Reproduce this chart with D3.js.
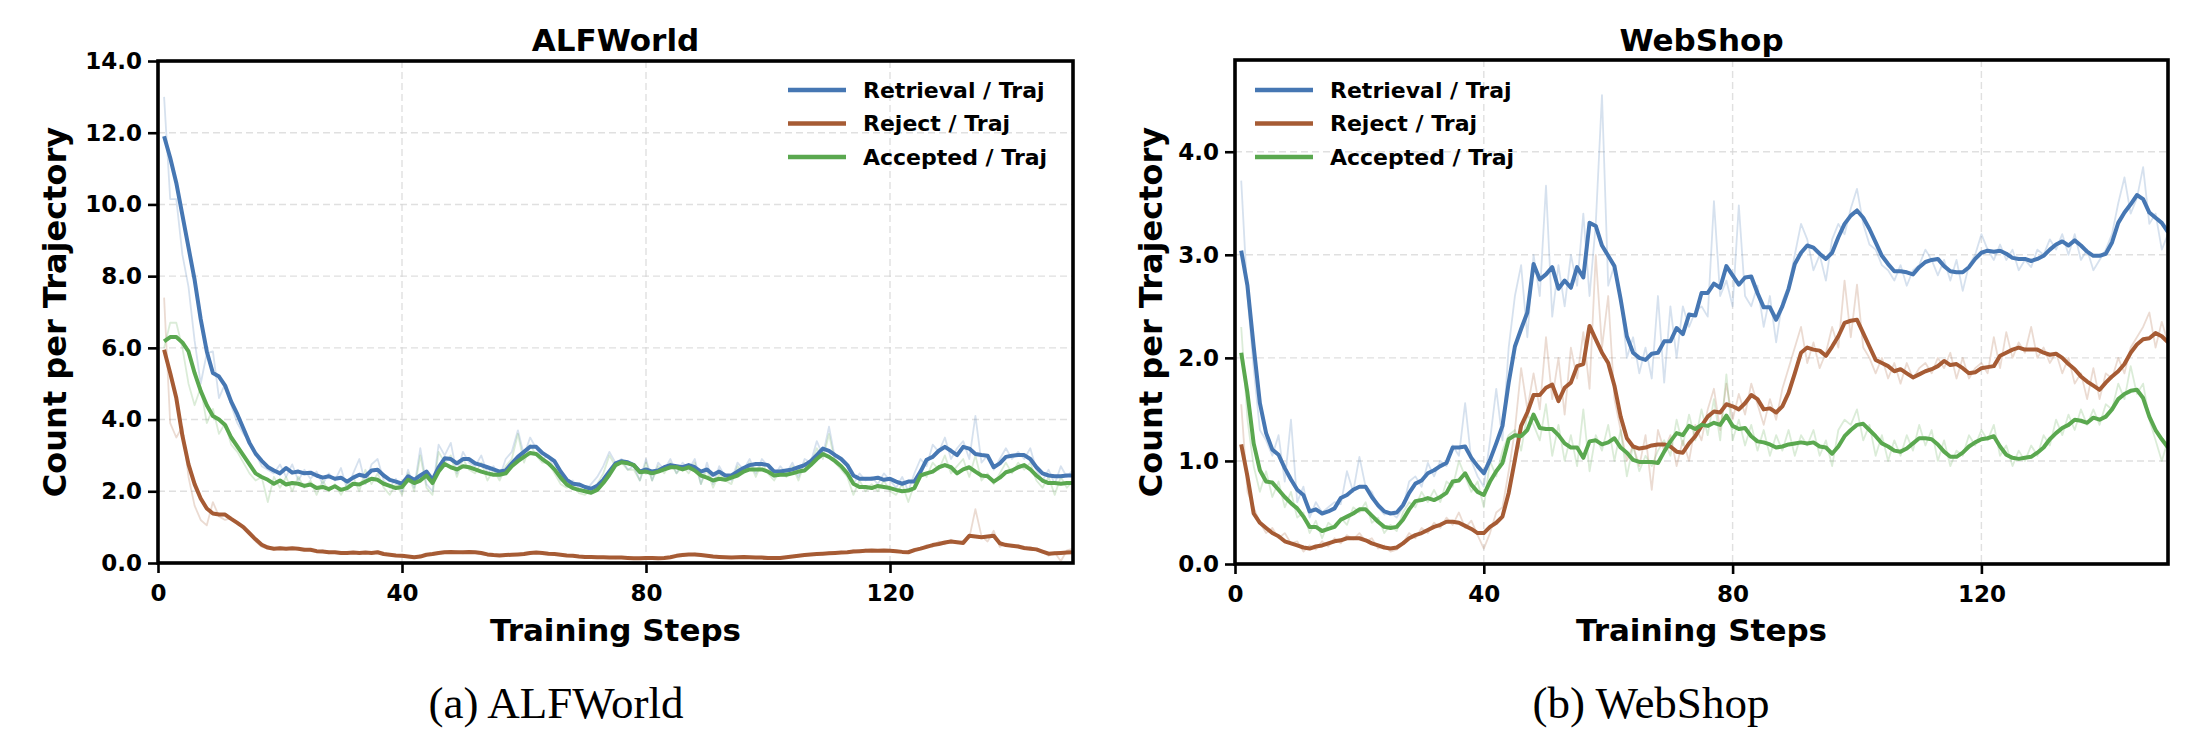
<!DOCTYPE html>
<html>
<head>
<meta charset="utf-8">
<script src="https://cdn.jsdelivr.net/npm/d3@7"></script>
<style>
  body { margin: 0; background: #fff; }
  svg text { font-family: "DejaVu Sans", sans-serif; font-weight: bold; }
  svg text.caption { font-family: "Liberation Serif", "Times New Roman", serif; font-weight: normal; }
</style>
</head>
<body>
<div id="graph"></div>
<script>
// Training steps 1..150 (category positions on the x axis)
var steps = d3.range(1, 151);
var x_ticks = [0, 40, 80, 120];
var series_names = ["Retrieval / Traj", "Reject / Traj", "Accepted / Traj"];
var series_colors = ["#4677b3", "#a65b34", "#5aa84f"];

// ---- ALFWorld: smoothed curves ----
var alf_retrieval = [
  11.9, 11.3, 10.6, 9.7, 8.8, 7.9, 6.8, 5.9, 5.3, 5.2,
  4.95, 4.5, 4.15, 3.75, 3.35, 3.05, 2.85, 2.68, 2.58, 2.5,
  2.65, 2.52, 2.55, 2.5, 2.52, 2.44, 2.38, 2.42, 2.35, 2.38,
  2.27, 2.38, 2.46, 2.42, 2.58, 2.6, 2.44, 2.32, 2.27, 2.21,
  2.42, 2.32, 2.44, 2.55, 2.32, 2.67, 2.92, 2.9, 2.78, 2.9,
  2.9, 2.78, 2.73, 2.67, 2.61, 2.55, 2.58, 2.78, 2.96, 3.1,
  3.24, 3.24, 3.07, 2.96, 2.84, 2.55, 2.32, 2.21, 2.19, 2.12,
  2.07, 2.15, 2.32, 2.55, 2.78, 2.84, 2.81, 2.73, 2.55, 2.61,
  2.55, 2.58, 2.67, 2.73, 2.7, 2.67, 2.73, 2.67, 2.55, 2.61,
  2.46, 2.55, 2.44, 2.44, 2.55, 2.65, 2.73, 2.76, 2.76, 2.73,
  2.55, 2.55, 2.58, 2.61, 2.67, 2.73, 2.84, 3.01, 3.19, 3.13,
  3.01, 2.9, 2.73, 2.44, 2.35, 2.35, 2.35, 2.38, 2.32, 2.35,
  2.27, 2.21, 2.27, 2.27, 2.55, 2.88, 2.96, 3.13, 3.24, 3.13,
  3.01, 3.24, 3.19, 3.04, 3.01, 2.99, 2.67, 2.78, 2.96, 2.99,
  3.01, 3.01, 2.9, 2.67, 2.5, 2.44, 2.42, 2.42, 2.44, 2.44
];
var alf_reject = [
  5.95, 5.3, 4.6, 3.55, 2.75, 2.2, 1.8, 1.52, 1.38, 1.35,
  1.35, 1.23, 1.12, 1.0, 0.83, 0.66, 0.51, 0.43, 0.4, 0.41,
  0.4, 0.41, 0.4, 0.37, 0.37, 0.33, 0.32, 0.3, 0.3, 0.28,
  0.28, 0.29, 0.28, 0.29, 0.28, 0.3, 0.25, 0.23, 0.21, 0.2,
  0.18, 0.16, 0.18, 0.23, 0.25, 0.28, 0.3, 0.31, 0.3, 0.3,
  0.31, 0.3, 0.28, 0.24, 0.22, 0.21, 0.22, 0.23, 0.24, 0.25,
  0.28, 0.29, 0.28, 0.26, 0.25, 0.23, 0.21, 0.2, 0.18, 0.17,
  0.17, 0.16, 0.16, 0.15, 0.15, 0.15, 0.14, 0.13, 0.13, 0.14,
  0.14, 0.13, 0.14, 0.16, 0.2, 0.22, 0.24, 0.24, 0.22, 0.2,
  0.18, 0.17, 0.16, 0.15, 0.16, 0.17, 0.16, 0.15, 0.15, 0.14,
  0.14, 0.14, 0.16, 0.18, 0.2, 0.22, 0.24, 0.25, 0.26, 0.27,
  0.28, 0.29, 0.3, 0.32, 0.33, 0.34, 0.35, 0.34, 0.35, 0.34,
  0.33, 0.31, 0.3, 0.36, 0.4, 0.45, 0.5, 0.53, 0.57, 0.6,
  0.58, 0.56, 0.76, 0.74, 0.72, 0.74, 0.76, 0.55, 0.5, 0.48,
  0.46, 0.42, 0.4, 0.38, 0.32, 0.26, 0.27, 0.28, 0.29, 0.3
];
var alf_accepted = [
  6.18, 6.3, 6.3, 6.15, 5.9, 5.3, 4.8, 4.4, 4.1, 4.0,
  3.85, 3.5, 3.25, 3.0, 2.75, 2.5, 2.4, 2.32, 2.21, 2.3,
  2.19, 2.23, 2.21, 2.15, 2.19, 2.09, 2.12, 2.06, 2.14, 2.04,
  2.09, 2.21, 2.19, 2.27, 2.35, 2.32, 2.21, 2.15, 2.09, 2.12,
  2.32, 2.23, 2.3, 2.44, 2.23, 2.55, 2.76, 2.67, 2.61, 2.7,
  2.67, 2.61, 2.55, 2.5, 2.46, 2.46, 2.5, 2.7, 2.84, 2.96,
  3.07, 3.04, 2.9, 2.78, 2.61, 2.38, 2.19, 2.09, 2.04, 2.0,
  1.96, 2.04, 2.23, 2.46, 2.73, 2.81, 2.78, 2.73, 2.53, 2.55,
  2.5, 2.55, 2.61, 2.67, 2.67, 2.61, 2.67, 2.58, 2.44, 2.38,
  2.3, 2.35, 2.32, 2.38, 2.44, 2.55, 2.61, 2.61, 2.61, 2.55,
  2.44, 2.46, 2.46, 2.5, 2.55, 2.58, 2.73, 2.9, 3.04, 2.96,
  2.84, 2.7, 2.5, 2.21, 2.12, 2.12, 2.09, 2.15, 2.12, 2.09,
  2.04, 2.0, 2.02, 2.09, 2.44, 2.5, 2.55, 2.67, 2.73, 2.67,
  2.5, 2.61, 2.67, 2.55, 2.44, 2.42, 2.27, 2.38, 2.53, 2.58,
  2.67, 2.73, 2.61, 2.44, 2.3, 2.23, 2.23, 2.21, 2.23, 2.23
];

// ---- ALFWorld: raw per-step values (faint lines) ----
var alf_retrieval_raw = [
  13.0, 10.15, 10.15, 8.6, 7.7, 6.2, 5.0, 5.85, 5.9, 4.6,
  5.0, 4.4, 3.9, 3.6, 3.4, 3.05, 2.7, 2.6, 2.5, 2.75,
  2.4, 2.75, 2.3, 2.6, 2.35, 2.55, 2.2, 2.5, 2.3, 2.65,
  2.05, 2.5, 2.9, 2.2, 2.75, 2.9, 2.3, 2.1, 2.35, 2.0,
  2.6, 2.1, 3.2, 2.2, 2.0, 3.3, 3.0, 3.35, 2.5, 3.1,
  2.8, 2.7, 3.0, 2.5, 2.7, 2.4, 2.9, 3.1, 3.7, 3.0,
  3.5, 3.2, 2.9, 3.0, 2.6, 2.3, 2.2, 2.3, 2.1, 2.0,
  2.2, 2.4, 2.7, 3.1, 2.8, 2.9, 2.6, 2.7, 2.3, 2.9,
  2.3, 2.8, 2.6, 2.9, 2.5, 2.8, 2.6, 2.9, 2.2, 2.8,
  2.2, 2.7, 2.4, 2.3, 2.8, 2.6, 2.9, 2.5, 2.9, 2.7,
  2.4, 2.7, 2.5, 2.8, 2.4, 2.9, 2.8, 3.4, 3.0, 3.8,
  2.9, 2.7, 2.5, 2.2, 2.5, 2.3, 2.4, 2.2, 2.5, 2.3,
  2.1, 2.4, 2.0, 2.5, 2.9, 2.7, 3.3, 3.1, 3.5, 2.9,
  3.2, 3.4, 2.9, 4.1, 2.8, 3.0, 2.6, 2.9, 3.2, 2.9,
  3.1, 2.9, 3.2, 2.6, 2.3, 2.6, 2.2, 2.7, 2.4, 2.6
];
var alf_reject_raw = [
  7.4, 3.9, 3.5, 3.8, 2.4, 1.6, 1.2, 1.05, 1.7, 1.3,
  1.2, 1.25, 1.15, 0.95, 0.8, 0.6, 0.45, 0.4, 0.38, 0.44,
  0.4, 0.42, 0.37, 0.4, 0.35, 0.3, 0.35, 0.27, 0.3, 0.26,
  0.3, 0.28, 0.3, 0.26, 0.3, 0.32, 0.22, 0.25, 0.2, 0.17,
  0.2, 0.14, 0.22, 0.25, 0.22, 0.3, 0.33, 0.28, 0.33, 0.27,
  0.34, 0.28, 0.25, 0.22, 0.2, 0.24, 0.2, 0.25, 0.22, 0.28,
  0.3, 0.27, 0.3, 0.24, 0.26, 0.22, 0.2, 0.22, 0.16, 0.19,
  0.15, 0.18, 0.14, 0.17, 0.13, 0.16, 0.14, 0.12, 0.15, 0.12,
  0.15, 0.12, 0.16, 0.18, 0.22, 0.26, 0.22, 0.27, 0.2, 0.22,
  0.16, 0.2, 0.14, 0.18, 0.13, 0.2, 0.14, 0.16, 0.13, 0.15,
  0.12, 0.16, 0.15, 0.2, 0.18, 0.25, 0.22, 0.27, 0.24, 0.3,
  0.26, 0.32, 0.28, 0.36, 0.3, 0.38, 0.32, 0.36, 0.33, 0.37,
  0.3, 0.34, 0.28, 0.4, 0.38, 0.5, 0.45, 0.6, 0.52, 0.65,
  0.55, 0.62, 0.7, 1.5, 0.75, 0.6, 0.9, 0.45, 0.55, 0.45,
  0.5, 0.38, 0.45, 0.35, 0.3, 0.2, 0.3, 0.05, 0.35, 0.4
];
var alf_accepted_raw = [
  6.0, 6.7, 6.7, 6.0, 5.0, 4.4, 4.9, 3.9, 4.3, 3.6,
  3.9, 3.3, 3.1, 2.8, 2.5, 2.3, 2.4, 1.7, 2.4, 2.1,
  2.4, 2.0, 2.4, 2.1, 2.3, 1.9, 2.3, 2.0, 2.2, 1.9,
  2.2, 2.4, 2.0, 2.6, 2.2, 2.5, 2.1, 1.9, 2.2, 1.9,
  2.5, 2.0, 3.0, 2.1, 1.9, 3.1, 2.8, 3.0, 2.4, 2.9,
  2.6, 2.5, 2.8, 2.3, 2.6, 2.3, 2.7, 2.9, 3.6, 2.8,
  3.3, 3.0, 2.8, 2.8, 2.5, 2.2, 2.1, 2.2, 1.95, 1.9,
  2.05, 2.2, 2.5, 3.0, 2.7, 2.8, 2.6, 2.6, 2.3, 2.8,
  2.3, 2.7, 2.5, 2.8, 2.5, 2.7, 2.5, 2.8, 2.2, 2.6,
  2.1, 2.5, 2.3, 2.2, 2.7, 2.5, 2.8, 2.4, 2.8, 2.5,
  2.3, 2.6, 2.4, 2.7, 2.3, 2.8, 2.7, 3.2, 2.9, 3.6,
  2.8, 2.6, 2.4, 1.9, 2.3, 2.0, 2.2, 2.0, 2.3, 2.0,
  1.9, 2.2, 1.7, 2.2, 2.6, 2.4, 2.8, 2.6, 3.0, 2.5,
  2.7, 2.9, 2.4, 3.0, 2.3, 2.5, 2.2, 2.5, 2.8, 2.5,
  2.8, 2.6, 2.8, 2.3, 2.1, 2.4, 1.9, 2.4, 2.1, 2.3
];

// ---- WebShop: smoothed curves ----
var web_retrieval = [
  3.04, 2.7, 2.11, 1.56, 1.27, 1.11, 1.06, 0.93, 0.82, 0.72,
  0.67, 0.51, 0.53, 0.49, 0.51, 0.54, 0.64, 0.67, 0.72, 0.75,
  0.75, 0.65, 0.57, 0.51, 0.49, 0.5, 0.57, 0.69, 0.78, 0.81,
  0.88, 0.91, 0.95, 0.98, 1.13, 1.13, 1.14, 1.03, 0.95, 0.88,
  1.01, 1.17, 1.34, 1.76, 2.11, 2.28, 2.44, 2.91, 2.76, 2.81,
  2.88, 2.67, 2.75, 2.68, 2.88, 2.78, 3.31, 3.28, 3.09, 2.99,
  2.89, 2.57, 2.21, 2.05, 2.0, 1.98, 2.04, 2.05, 2.16, 2.16,
  2.29, 2.23, 2.42, 2.41, 2.63, 2.63, 2.72, 2.68, 2.89, 2.8,
  2.71, 2.78, 2.79, 2.63, 2.49, 2.49, 2.37, 2.5, 2.67, 2.91,
  3.02, 3.09, 3.07, 3.01, 2.96, 3.02, 3.17, 3.3, 3.38, 3.43,
  3.36, 3.25, 3.12, 2.99, 2.91, 2.84, 2.84, 2.83, 2.81, 2.88,
  2.93, 2.95, 2.96, 2.89, 2.84, 2.83, 2.83, 2.88, 2.96, 3.02,
  3.04, 3.03, 3.04, 3.01, 2.97, 2.96, 2.96, 2.94, 2.96, 2.99,
  3.05, 3.1, 3.13, 3.09, 3.14, 3.09, 3.03, 2.99, 2.99, 3.01,
  3.12, 3.31, 3.41, 3.49, 3.58, 3.54, 3.41, 3.36, 3.31, 3.22
];
var web_reject = [
  1.16, 0.85, 0.49, 0.4, 0.35, 0.3, 0.27, 0.22, 0.2, 0.18,
  0.16, 0.15, 0.17, 0.18, 0.2, 0.22, 0.23, 0.25, 0.25, 0.25,
  0.23, 0.2, 0.18, 0.16, 0.15, 0.16, 0.2, 0.25, 0.28, 0.3,
  0.33, 0.36, 0.38, 0.41, 0.41, 0.4, 0.37, 0.34, 0.3, 0.3,
  0.36, 0.4, 0.46, 0.69, 1.01, 1.34, 1.47, 1.64, 1.64, 1.71,
  1.74, 1.58, 1.71, 1.76, 1.92, 1.94, 2.31, 2.18, 2.05, 1.95,
  1.73, 1.43, 1.22, 1.14, 1.12, 1.13, 1.15, 1.16, 1.16, 1.14,
  1.09, 1.08, 1.17, 1.24, 1.34, 1.43, 1.48, 1.47, 1.55, 1.53,
  1.5, 1.56, 1.64, 1.6, 1.5, 1.51, 1.47, 1.53, 1.66, 1.85,
  2.05, 2.1, 2.08, 2.07, 2.02, 2.11, 2.21, 2.34, 2.36, 2.37,
  2.24, 2.11, 1.98, 1.95, 1.92, 1.87, 1.89, 1.85, 1.81, 1.84,
  1.87, 1.89, 1.92, 1.97, 1.93, 1.94, 1.9, 1.85, 1.86, 1.9,
  1.91, 1.92, 2.02, 2.05, 2.08, 2.1, 2.08, 2.08, 2.08, 2.05,
  2.03, 2.04, 2.0, 1.94, 1.89, 1.82, 1.77, 1.73, 1.69, 1.76,
  1.82, 1.87, 1.94, 2.05, 2.13, 2.18, 2.19, 2.24, 2.21, 2.15
];
var web_accepted = [
  2.05, 1.66, 1.17, 0.91, 0.8, 0.79, 0.72, 0.65, 0.59, 0.54,
  0.46, 0.36, 0.36, 0.32, 0.34, 0.36, 0.43, 0.46, 0.49, 0.53,
  0.53, 0.47, 0.41, 0.36, 0.35, 0.36, 0.43, 0.53, 0.61, 0.62,
  0.64, 0.62, 0.65, 0.69, 0.8, 0.81, 0.88, 0.77, 0.7, 0.67,
  0.8, 0.9, 0.98, 1.21, 1.25, 1.24, 1.3, 1.45, 1.32, 1.31,
  1.31, 1.25, 1.17, 1.13, 1.13, 1.03, 1.19, 1.2, 1.16, 1.18,
  1.22, 1.13, 1.08, 1.01, 0.99, 0.99, 0.99, 0.98, 1.09, 1.19,
  1.27, 1.25, 1.34, 1.31, 1.35, 1.34, 1.37, 1.35, 1.44, 1.34,
  1.31, 1.32, 1.24, 1.19, 1.18, 1.16, 1.13, 1.14, 1.16, 1.17,
  1.18, 1.17, 1.18, 1.14, 1.13, 1.07, 1.14, 1.24, 1.3, 1.35,
  1.36, 1.3, 1.24, 1.17, 1.14, 1.1, 1.09, 1.12, 1.17, 1.22,
  1.22, 1.21, 1.16, 1.09, 1.04, 1.04, 1.08, 1.14, 1.18, 1.21,
  1.22, 1.24, 1.14, 1.06, 1.03, 1.02, 1.03, 1.04, 1.08, 1.13,
  1.21, 1.27, 1.32, 1.35, 1.4, 1.39, 1.37, 1.42, 1.4, 1.43,
  1.5, 1.6, 1.65, 1.68, 1.69, 1.61, 1.43, 1.3, 1.21, 1.13
];

// ---- WebShop: raw per-step values (faint lines) ----
var web_retrieval_raw = [
  3.72, 2.6, 1.9, 1.3, 1.2, 1.05, 1.25, 0.8, 1.4, 0.6,
  0.75, 0.45, 0.6, 0.5, 0.55, 0.6, 0.58, 0.9, 0.7, 1.04,
  0.75, 0.7, 0.55, 0.48, 0.5, 0.45, 0.55, 0.8, 0.85, 0.75,
  0.98, 0.85, 1.0, 0.95, 1.15, 1.05, 1.56, 1.0, 0.85, 0.75,
  1.2, 1.7, 1.2, 2.1, 2.6, 2.9, 2.2, 3.0, 2.6, 3.67,
  2.4, 2.9, 2.5, 3.0, 2.7, 3.4, 2.6, 3.3, 4.55, 2.7,
  2.9, 2.6, 2.0, 2.2, 1.85, 2.1, 1.8, 2.6, 1.76, 2.5,
  2.0, 2.5, 2.3, 2.45, 2.5, 2.4, 3.52, 2.6, 2.75, 2.5,
  3.48, 2.6, 2.5, 2.7, 2.3, 2.6, 2.15, 2.55, 2.7, 3.0,
  3.3, 3.15, 2.85, 3.0, 2.75, 3.15, 3.3, 3.2, 3.45, 3.64,
  3.3, 3.1, 3.05, 2.9, 2.85, 2.75, 2.9, 2.7, 2.85, 2.9,
  3.05, 2.95, 2.8, 2.95, 2.75, 2.95, 2.65, 2.9, 3.0, 3.2,
  3.05, 2.95, 3.1, 2.95, 3.05, 2.85, 2.95, 2.88, 3.05, 3.0,
  3.15, 3.05, 3.2, 3.0, 3.2, 2.95, 3.05, 2.85, 2.95, 3.05,
  3.2, 3.5, 3.75, 3.4, 3.55, 3.85, 3.3, 3.4, 3.05, 3.2
];
var web_reject_raw = [
  1.55, 0.7, 0.55, 0.4, 0.3, 0.35, 0.25, 0.3, 0.2, 0.22,
  0.12, 0.18, 0.14, 0.22, 0.17, 0.25, 0.2, 0.28, 0.24, 0.3,
  0.22, 0.25, 0.15, 0.18, 0.12, 0.14, 0.2, 0.3, 0.25, 0.35,
  0.3, 0.4, 0.35, 0.45, 0.38, 0.5, 0.35, 0.42, 0.28, 0.15,
  0.3, 0.5, 0.55, 0.9, 1.3, 1.9, 1.5, 1.85, 1.5, 2.2,
  1.6, 2.0, 1.45, 2.1, 1.8, 2.25, 1.7, 3.0, 2.1, 2.6,
  1.6, 1.3, 1.0, 1.15, 0.95, 1.25, 0.72, 1.3, 1.1, 1.25,
  0.95, 1.2, 1.0, 1.35, 1.2, 1.5, 1.7, 1.3, 1.75, 1.4,
  1.65, 1.45, 1.75, 1.55, 1.35, 1.6, 1.4, 1.7, 1.9, 2.1,
  2.3, 1.95, 2.15, 1.9, 2.05, 2.3, 2.1, 2.75, 2.2, 2.71,
  2.1, 2.0, 1.85, 2.0, 1.8, 1.95, 1.75, 1.95, 1.8, 1.9,
  1.95, 1.85, 2.0, 1.9, 2.05, 1.8, 2.0, 1.8, 1.9, 1.95,
  1.85, 2.2, 1.9, 2.25, 2.0, 2.15, 2.05, 2.3, 2.0, 2.1,
  1.95, 2.05, 1.85, 2.0, 1.75, 1.85, 1.6, 1.9, 1.6, 1.85,
  1.8, 2.0, 1.85, 2.1, 2.2, 2.3, 2.44, 2.1, 2.35, 2.15
];
var web_accepted_raw = [
  2.3, 1.4, 0.95, 0.7, 0.9, 0.65, 0.8, 0.55, 0.7, 0.45,
  0.5, 0.3, 0.42, 0.25, 0.4, 0.35, 0.45, 0.38, 0.55, 0.5,
  0.6, 0.4, 0.45, 0.3, 0.38, 0.32, 0.5, 0.6, 0.55, 0.7,
  0.6, 0.72, 0.6, 0.8, 0.75, 1.0, 0.85, 0.7, 0.8, 0.55,
  1.0, 0.85, 1.1, 1.25, 1.3, 1.1, 1.45, 1.35, 1.2, 1.55,
  1.05, 1.35, 1.0, 1.25, 0.95, 1.5, 0.9, 1.25, 1.1, 1.35,
  1.0, 1.3, 0.85, 1.15, 0.9, 1.05, 0.95, 1.1, 1.2, 1.05,
  1.4, 1.15, 1.45, 1.2, 1.5, 1.25, 1.6, 1.2, 1.84, 1.2,
  1.4, 1.15, 1.35, 1.1, 1.3, 1.05, 1.25, 1.1, 1.3, 1.05,
  1.25, 1.15, 1.3, 1.05, 1.2, 0.95, 1.3, 1.4, 1.35, 1.5,
  1.2, 1.35, 1.05, 1.25, 1.0, 1.2, 1.05, 1.25, 1.1, 1.35,
  1.15, 1.3, 1.0, 1.2, 0.95, 1.1, 1.05, 1.25, 1.15, 1.3,
  1.2, 1.35, 1.05, 1.15, 0.95, 1.1, 1.0, 1.15, 1.05, 1.25,
  1.15, 1.4, 1.25, 1.45, 1.3, 1.5, 1.35, 1.5, 1.35, 1.55,
  1.5, 1.75, 1.6, 1.92, 1.65, 1.75, 1.4, 1.2, 1.0, 1.2
];

var alf_y_ticks = [0, 2, 4, 6, 8, 10, 12, 14];
var web_y_ticks = [0, 1, 2, 3, 4];

var width = 2202;
var height = 750;

var svg = d3.select("#graph")
            .append("svg")
              .attr("width", width)
              .attr("height", height)
              .style("background", "#fff");

/**
 * One subplot: faint raw lines, smoothed lines, grid, spines, ticks, legend.
 */
function draw_panel(p) {

  var xscale = d3.scaleLinear()
                 .domain([0, 150])
                 .range([p.left, p.right]);

  var yscale = d3.scaleLinear()
                 .domain([0, p.ymax])
                 .range([p.bottom, p.top]);

  var g = svg.append("g");

  // clip region = axes box
  g.append("clipPath")
     .attr("id", p.id + "_clip")
   .append("rect")
     .attr("x", p.left)
     .attr("y", p.top)
     .attr("width", p.right - p.left)
     .attr("height", p.bottom - p.top);

  // Dashed grid
  g.selectAll(".ygrid")
    .data(p.yticks)
    .enter()
      .append("line")
      .attr("x1", p.left).attr("x2", p.right)
      .attr("y1", function (d) { return yscale(d); })
      .attr("y2", function (d) { return yscale(d); })
      .attr("stroke", "#d4d4d4")
      .attr("stroke-width", 1.4)
      .attr("stroke-dasharray", "7,4")
      .attr("opacity", 0.7);

  g.selectAll(".xgrid")
    .data(x_ticks)
    .enter()
      .append("line")
      .attr("y1", p.top).attr("y2", p.bottom)
      .attr("x1", function (d) { return xscale(d); })
      .attr("x2", function (d) { return xscale(d); })
      .attr("stroke", "#d4d4d4")
      .attr("stroke-width", 1.4)
      .attr("stroke-dasharray", "7,4")
      .attr("opacity", 0.7);

  var line = d3.line()
               .x(function (d, i) { return xscale(steps[i]); })
               .y(function (d) { return yscale(d); });

  var plot = g.append("g")
              .attr("clip-path", "url(#" + p.id + "_clip)");

  // raw values, faint
  p.raw.forEach(function (vals, k) {
    plot.append("path")
        .datum(vals)
        .attr("d", line)
        .attr("fill", "none")
        .attr("stroke", series_colors[k])
        .attr("stroke-width", 1.8)
        .attr("stroke-opacity", 0.22)
        .attr("stroke-linejoin", "round");
  });

  // smoothed values
  p.smooth.forEach(function (vals, k) {
    plot.append("path")
        .datum(vals)
        .attr("d", line)
        .attr("fill", "none")
        .attr("stroke", series_colors[k])
        .attr("stroke-width", 4)
        .attr("stroke-linejoin", "round")
        .attr("stroke-linecap", "butt");
  });

  // Axes (ticks + labels)
  var x_axis = d3.axisBottom(xscale)
                 .tickValues(x_ticks)
                 .tickSize(10)
                 .tickPadding(6)
                 .tickFormat(d3.format("d"));

  var y_axis = d3.axisLeft(yscale)
                 .tickValues(p.yticks)
                 .tickSize(10)
                 .tickPadding(6)
                 .tickFormat(d3.format(".1f"));

  var xg = g.append("g")
            .attr("transform", "translate(0," + p.bottom + ")")
            .call(x_axis);
  var yg = g.append("g")
            .attr("transform", "translate(" + p.left + ",0)")
            .call(y_axis);

  [xg, yg].forEach(function (ax) {
    ax.select(".domain").remove();
    ax.selectAll(".tick line")
      .attr("stroke", "#000")
      .attr("stroke-width", 2.6);
    ax.selectAll(".tick text")
      .attr("fill", "#000")
      .style("font-size", "23px");
  });
  xg.selectAll(".tick text").attr("dy", "0.95em");

  // Spines (box)
  g.append("rect")
     .attr("x", p.left)
     .attr("y", p.top)
     .attr("width", p.right - p.left)
     .attr("height", p.bottom - p.top)
     .attr("fill", "none")
     .attr("stroke", "#000")
     .attr("stroke-width", 3.6);

  var cx = (p.left + p.right) / 2;

  // Title
  g.append("text")
     .attr("x", cx)
     .attr("y", 51)
     .attr("text-anchor", "middle")
     .style("font-size", "31px")
     .text(p.title);

  // x label
  g.append("text")
     .attr("x", cx)
     .attr("y", 641)
     .attr("text-anchor", "middle")
     .style("font-size", "31px")
     .text("Training Steps");

  // y label
  var ycenter = (p.top + p.bottom) / 2;
  g.append("text")
     .attr("transform", "translate(" + p.ylabel_x + "," + ycenter + ") rotate(-90)")
     .attr("text-anchor", "middle")
     .style("font-size", "32px")
     .text("Count per Trajectory");

  // Legend (no frame)
  var legend = g.append("g");
  series_names.forEach(function (name, k) {
    var ly = 90 + k * 33.5;
    legend.append("line")
          .attr("x1", p.legend_x)
          .attr("x2", p.legend_x + 58)
          .attr("y1", ly).attr("y2", ly)
          .attr("stroke", series_colors[k])
          .attr("stroke-width", 4.5);
    legend.append("text")
          .attr("x", p.legend_x + 75)
          .attr("y", ly)
          .attr("dy", "0.36em")
          .style("font-size", "22px")
          .text(name);
  });

  // Sub-figure caption
  svg.append("text")
     .attr("class", "caption")
     .attr("x", p.caption_x)
     .attr("y", 718)
     .attr("text-anchor", "middle")
     .style("font-size", "45px")
     .text(p.caption);
}

draw_panel({
  id: "alf",
  title: "ALFWorld",
  caption: "(a) ALFWorld",
  caption_x: 556,
  left: 158, right: 1073, top: 61, bottom: 563,
  ymax: 14,
  yticks: alf_y_ticks,
  ylabel_x: 66,
  legend_x: 788,
  raw: [alf_retrieval_raw, alf_reject_raw, alf_accepted_raw],
  smooth: [alf_retrieval, alf_reject, alf_accepted]
});

draw_panel({
  id: "web",
  title: "WebShop",
  caption: "(b) WebShop",
  caption_x: 1651,
  left: 1235, right: 2168, top: 60, bottom: 564,
  ymax: 4.89,
  yticks: web_y_ticks,
  ylabel_x: 1162,
  legend_x: 1255,
  raw: [web_retrieval_raw, web_reject_raw, web_accepted_raw],
  smooth: [web_retrieval, web_reject, web_accepted]
});
</script>
</body>
</html>
